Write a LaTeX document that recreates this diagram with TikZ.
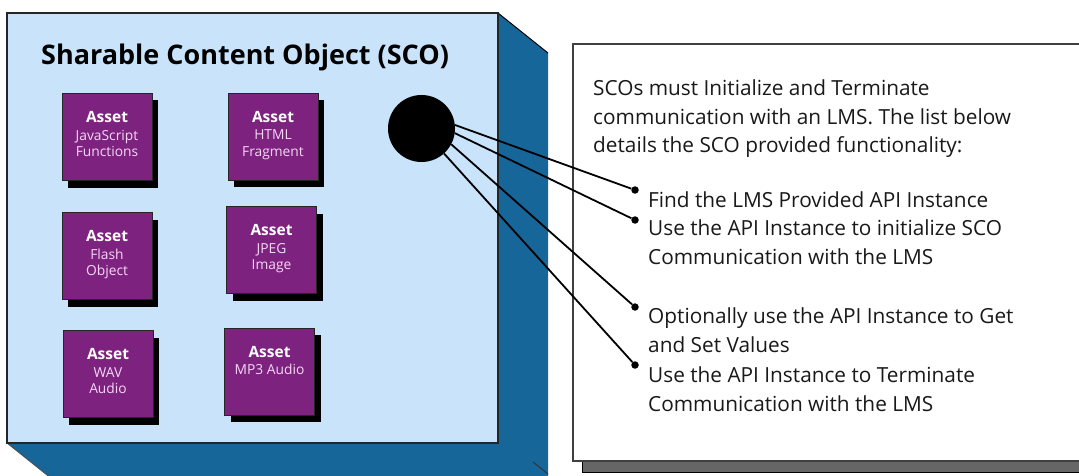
\documentclass[tikz,border=0pt]{standalone}
\usepackage{fontspec}
\setmainfont{Open Sans}
\usetikzlibrary{positioning,shadows}
\definecolor{scoface}{HTML}{C9E4FA}
\definecolor{scoside}{HTML}{17669A}
\definecolor{assetfill}{HTML}{7E2280}
\definecolor{assetsub}{HTML}{F4D8F4}
\definecolor{panelshade}{HTML}{666666}

\begin{document}
\begin{tikzpicture}[x=1pt, y=-1pt,
        asset/.style={draw=black!85, fill=assetfill, minimum width=90pt, minimum height=87pt, inner sep=0pt,
            drop shadow={shadow xshift=6pt, shadow yshift=-7pt, fill=black, opacity=1}},
        assettxt/.style={align=center, inner sep=0pt, text=assetsub, font=\fontsize{13.8}{16.5}\selectfont},
        bullet/.style={circle, fill=black, minimum size=7.5pt, inner sep=0pt},
        link/.style={draw, line width=1.8pt},
        listtxt/.style={anchor=north west, align=left, inner sep=0pt, text=black!90, font=\fontsize{20.8}{28.5}\selectfont}]

    \useasboundingbox (0,0) rectangle (1079,476);
    \clip (0,0) rectangle (1079,476);

    % SCO block
    \fill[scoside] (498,13) -- (548,53) -- (548,483) -- (57,483) -- (7,443) -- (498,443) -- cycle;
    \draw[line width=1pt] (498,13) -- (548,53);
    \draw[line width=0.8pt, black!70] (7,443) -- (57,483);
    \draw[line width=1pt, black!80] (533,462) -- (548,474);
    \draw[fill=scoface, line width=1.2pt, draw=black!85] (7,13) rectangle (498,443);
    \node[anchor=base west, inner sep=0pt, font=\fontsize{27}{30}\selectfont\bfseries] (title) at (41,65) {Sharable Content Object (SCO)};

    % Assets
    \node[asset] (js) at (107,137) {};
    \node[asset] (html) at (273,136.5) {};
    \node[asset] (flash) at (107,256) {};
    \node[asset] (jpeg) at (271.5,250) {};
    \node[asset] (wav) at (108,374) {};
    \node[asset] (mp3) at (269.5,371.5) {};
    \node[assettxt, below=18pt of js.north] {{\fontsize{15.5}{16}\selectfont\bfseries\color{white}Asset}\\[1pt]JavaScript\\Functions};
    \node[assettxt, below=18pt of html.north] {{\fontsize{15.5}{16}\selectfont\bfseries\color{white}Asset}\\[1pt]HTML\\Fragment};
    \node[assettxt, below=18pt of flash.north] {{\fontsize{15.5}{16}\selectfont\bfseries\color{white}Asset}\\[1pt]Flash\\Object};
    \node[assettxt, below=18pt of jpeg.north] {{\fontsize{15.5}{16}\selectfont\bfseries\color{white}Asset}\\[1pt]JPEG\\Image};
    \node[assettxt, below=18pt of wav.north] {{\fontsize{15.5}{16}\selectfont\bfseries\color{white}Asset}\\[1pt]WAV\\Audio};
    \node[assettxt, below=18pt of mp3.north] {{\fontsize{15.5}{16}\selectfont\bfseries\color{white}Asset}\\[1pt]MP3 Audio};

    % Hub
    \node[circle, fill=black, minimum size=67pt, inner sep=0pt] (hub) at (421.5,128.5) {};

    % Description panel
    \fill[panelshade, draw=black] (582,55) rectangle (1100,472);
    \draw[fill=white, draw=black!75, line width=1.5pt] (573,44) rectangle (1090,461);
    \node[listtxt] (intro) at (593,79.5) {SCOs must Initialize and Terminate\\communication with an LMS.\ The list below\\details the SCO provided functionality:};

    % Functionality list
    \node[listtxt] (find) at (648,191.5) {Find the LMS Provided API Instance};
    \node[listtxt] (init) at (648,219.5) {Use the API Instance to initialize SCO\\Communication with the LMS};
    \node[listtxt] (getset) at (648,307.5) {Optionally use the API Instance to Get\\and Set Values};
    \node[listtxt] (term) at (648,366.5) {Use the API Instance to Terminate\\Communication with the LMS};
    \node[bullet] (b1) at (635,190) {};
    \node[bullet] (b2) at (635,220) {};
    \node[bullet] (b3) at (635,307) {};
    \node[bullet] (b4) at (635,365) {};

    \draw[link] (hub.6) -- (b1);
    \draw[link] (hub.-8) -- (b2);
    \draw[link] (hub.-28) -- (b3);
    \draw[link] (hub.-48) -- (b4);
\end{tikzpicture}
\end{document}
